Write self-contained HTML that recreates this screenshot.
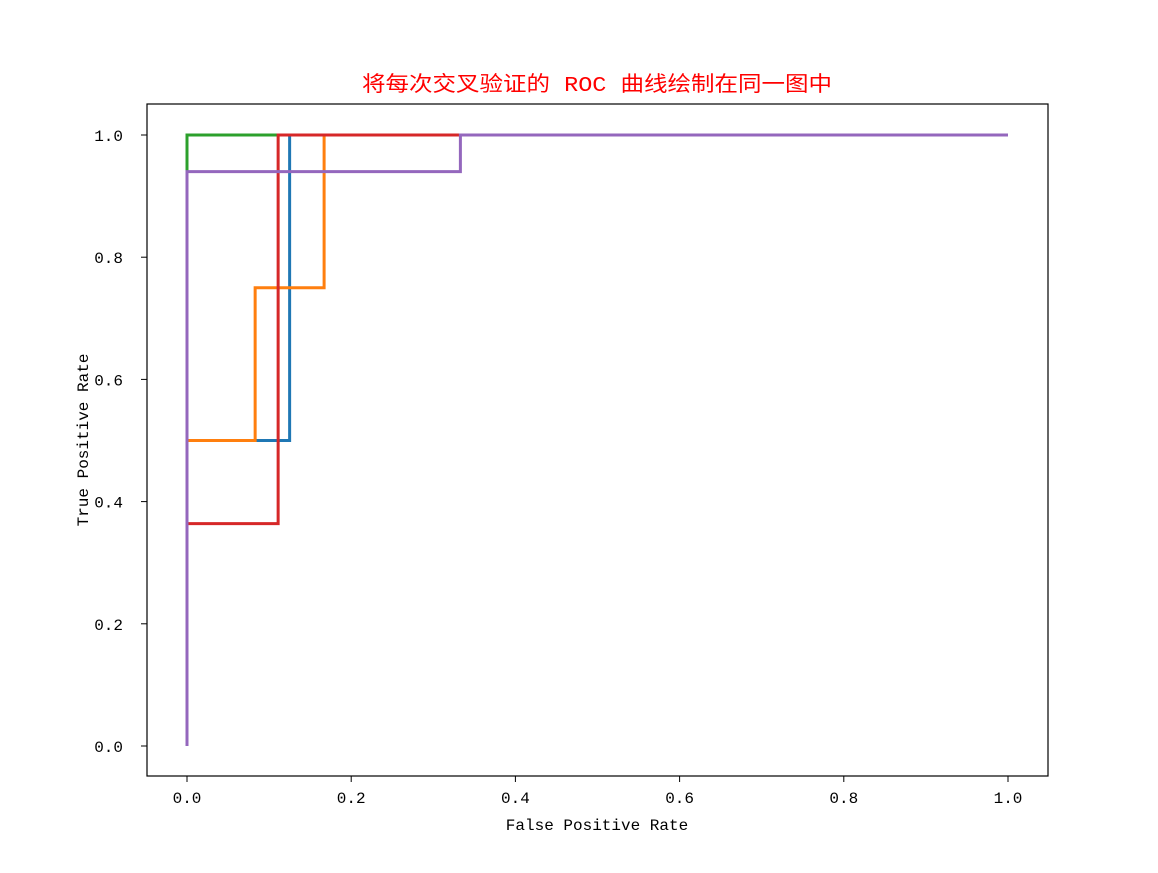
<!DOCTYPE html>
<html><head><meta charset="utf-8"><style>
html,body{margin:0;padding:0;background:#fff;}
svg text{font-family:"Liberation Mono","WenQuanYi Zen Hei","Noto Sans CJK SC",monospace;}
</style></head><body>
<svg id="chart" width="1158" height="868" xmlns="http://www.w3.org/2000/svg">
<rect width="1158" height="868" fill="#fff"/>
<text x="597" y="91" text-anchor="middle" font-size="21" textLength="470" lengthAdjust="spacingAndGlyphs" fill="#ff0000">将每次交叉验证的 ROC 曲线绘制在同一图中</text>
<g id="curves"></g>
<rect x="147" y="104" width="901" height="672" fill="none" stroke="#000" stroke-width="1.2"/>
<g id="axes"></g>
<text x="597" y="830" text-anchor="middle" font-size="16">False Positive Rate</text>
<text transform="translate(88,440) rotate(-90)" text-anchor="middle" font-size="16">True Positive Rate</text>
</svg>
<script>
const xTicks=[0,0.2,0.4,0.6,0.8,1.0];
const yTicks=[0,0.2,0.4,0.6,0.8,1.0];
const seriesNames=['fold-1','fold-2','fold-3','fold-4','fold-5'];
const seriesColors=['#1f77b4','#ff7f0e','#2ca02c','#d62728','#9467bd'];
const fpr1=[0,0,0.125,0.125,1];      const tpr1=[0,0.5,0.5,1,1];
const fpr2=[0,0,0.083,0.083,0.167,0.167,1]; const tpr2=[0,0.5,0.5,0.75,0.75,1,1];
const fpr3=[0,0,1];                  const tpr3=[0,1,1];
const fpr4=[0,0,0.111,0.111,1];      const tpr4=[0,0.364,0.364,1,1];
const fpr5=[0,0,0.333,0.333,1];      const tpr5=[0,0.94,0.94,1,1];
const fprs=[fpr1,fpr2,fpr3,fpr4,fpr5];
const tprs=[tpr1,tpr2,tpr3,tpr4,tpr5];
const NS='http://www.w3.org/2000/svg';
const xs=v=>187+v*(1008-187);
const ys=v=>746-v*(746-135);
const cg=document.getElementById('curves');
fprs.forEach((f,i)=>{
  const p=document.createElementNS(NS,'polyline');
  p.setAttribute('points',f.map((x,j)=>xs(x)+','+ys(tprs[i][j])).join(' '));
  p.setAttribute('fill','none');p.setAttribute('stroke',seriesColors[i]);p.setAttribute('stroke-width','3');
  
  
  cg.appendChild(p);
});
const ag=document.getElementById('axes');
xTicks.forEach(t=>{
  const l=document.createElementNS(NS,'line');
  l.setAttribute('x1',xs(t));l.setAttribute('x2',xs(t));l.setAttribute('y1',776);l.setAttribute('y2',782);l.setAttribute('stroke','#000');
  
  
  ag.appendChild(l);
  const tx=document.createElementNS(NS,'text');
  tx.setAttribute('x',xs(t));tx.setAttribute('y',803);tx.setAttribute('text-anchor','middle');tx.setAttribute('font-size','16');
  tx.textContent=t.toFixed(1);
  
  
  ag.appendChild(tx);
});
yTicks.forEach(t=>{
  const l=document.createElementNS(NS,'line');
  l.setAttribute('x1',141);l.setAttribute('x2',147);l.setAttribute('y1',ys(t));l.setAttribute('y2',ys(t));l.setAttribute('stroke','#000');
  
  
  ag.appendChild(l);
  const tx=document.createElementNS(NS,'text');
  tx.setAttribute('x',123);tx.setAttribute('y',ys(t)+6);tx.setAttribute('text-anchor','end');tx.setAttribute('font-size','16');
  tx.textContent=t.toFixed(1);
  
  
  ag.appendChild(tx);
});
</script>
</body></html>
